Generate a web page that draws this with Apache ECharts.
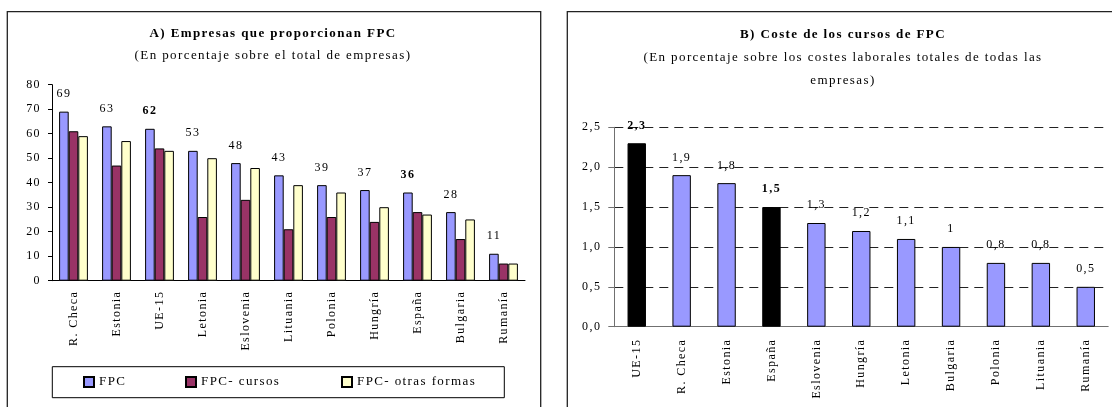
<!DOCTYPE html>
<html>
<head>
<meta charset="utf-8">
<script src="https://cdn.jsdelivr.net/npm/echarts@6/dist/echarts.min.js"></script>
<style>
  html, body { margin: 0; padding: 0; background: #fff; }
  #chart { width: 1112px; height: 407px; }
</style>
</head>
<body>
<div id="chart"></div>
<script>
// ---- data ----
const titleA = 'A) Empresas que proporcionan FPC';
const subtitleA = '(En porcentaje sobre el total de empresas)';
const titleB = 'B) Coste de los cursos de FPC';
const subtitleB = '(En porcentaje sobre los costes laborales totales de todas las\nempresas)';

const categoriesA = ['R. Checa', 'Estonia', 'UE-15', 'Letonia', 'Eslovenia', 'Lituania', 'Polonia', 'Hungría', 'España', 'Bulgaria', 'Rumanía'];
const seriesNamesA = ['FPC', 'FPC- cursos', 'FPC- otras formas'];
const fpcA = [69, 63, 62, 53, 48, 43, 39, 37, 36, 28, 11];
const cursosA = [61, 47, 54, 26, 33, 21, 26, 24, 28, 17, 7];
const otrasA = [59, 57, 53, 50, 46, 39, 36, 30, 27, 25, 7];

const categoriesB = ['UE-15', 'R. Checa', 'Estonia', 'España', 'Eslovenia', 'Hungría', 'Letonia', 'Bulgaria', 'Polonia', 'Lituania', 'Rumanía'];
const costeB = [2.3, 1.9, 1.8, 1.5, 1.3, 1.2, 1.1, 1.0, 0.8, 0.8, 0.5];

const highlighted = ['UE-15', 'España'];

const yAxisA = { min: 0, max: 80, interval: 10 };
const yAxisB = { min: 0, max: 2.5, interval: 0.5 };

// ---- styling ----
const FONT = 'Liberation Serif';
const LETTER_SPACING = '1.4px';
(function () {
  const proto = CanvasRenderingContext2D.prototype;
  if (!('letterSpacing' in proto)) return;
  const fill = proto.fillText, measure = proto.measureText;
  proto.fillText = function () { this.letterSpacing = LETTER_SPACING; return fill.apply(this, arguments); };
  proto.measureText = function () { this.letterSpacing = LETTER_SPACING; return measure.apply(this, arguments); };
})();

const colFPC = '#9999FF', colCursos = '#993366', colOtras = '#FFFFCC';
const txt = { fontFamily: FONT, color: '#000' };

const chart = echarts.init(document.getElementById('chart'));

const fpcData = fpcA.map((v, i) => ({
  value: v,
  label: { fontWeight: highlighted.includes(categoriesA[i]) ? 'bold' : 'normal' }
}));
const costeData = costeB.map((v, i) => {
  const hl = highlighted.includes(categoriesB[i]);
  return {
    value: v,
    itemStyle: { color: hl ? '#000000' : colFPC },
    label: { fontWeight: hl ? 'bold' : 'normal' }
  };
});

const barBorder = { borderColor: '#000', borderWidth: 1 };

const option = {
  animation: false,
  backgroundColor: '#fff',
  title: [
    {
      text: titleA, subtext: subtitleA, left: 273, top: 26, textAlign: 'center', itemGap: 6, padding: 0,
      textStyle: Object.assign({ fontSize: 13, fontWeight: 'bold', lineHeight: 16 }, txt),
      subtextStyle: Object.assign({ fontSize: 13, lineHeight: 16 }, txt)
    },
    {
      text: titleB, subtext: subtitleB, left: 843, top: 27, textAlign: 'center', itemGap: 3, padding: 0,
      textStyle: Object.assign({ fontSize: 13, fontWeight: 'bold', lineHeight: 16 }, txt),
      subtextStyle: Object.assign({ fontSize: 13, lineHeight: 23 }, txt)
    }
  ],
  legend: [
    { data: [seriesNamesA[0]], left: 83, top: 374, padding: 0, itemWidth: 10, itemHeight: 10, icon: 'rect',
      textStyle: Object.assign({ fontSize: 13, lineHeight: 16 }, txt) },
    { data: [seriesNamesA[1]], left: 185, top: 374, padding: 0, itemWidth: 10, itemHeight: 10, icon: 'rect',
      textStyle: Object.assign({ fontSize: 13, lineHeight: 16 }, txt) },
    { data: [seriesNamesA[2]], left: 341, top: 374, padding: 0, itemWidth: 10, itemHeight: 10, icon: 'rect',
      textStyle: Object.assign({ fontSize: 13, lineHeight: 16 }, txt) }
  ],
  grid: [
    { left: 52, top: 84.7, width: 473, height: 196, containLabel: false },
    { left: 614.3, top: 127.3, width: 493.9, height: 199.4, containLabel: false }
  ],
  xAxis: [
    {
      type: 'category', gridIndex: 0, data: categoriesA,
      axisLine: { lineStyle: { color: '#000', width: 1 } },
      axisTick: { show: false },
      axisLabel: Object.assign({ rotate: 90, margin: 10, fontSize: 12, interval: 0 }, txt)
    },
    {
      type: 'category', gridIndex: 1, data: categoriesB,
      axisLine: { lineStyle: { color: '#707070', width: 1 } },
      axisTick: { show: false },
      axisLabel: Object.assign({ rotate: 90, margin: 12, fontSize: 12, interval: 0 }, txt)
    }
  ],
  yAxis: [
    {
      type: 'value', gridIndex: 0, min: yAxisA.min, max: yAxisA.max, interval: yAxisA.interval,
      axisLine: { show: true, lineStyle: { color: '#000', width: 1 } },
      axisTick: { show: true, length: 4, lineStyle: { color: '#000' } },
      splitLine: { show: false },
      axisLabel: Object.assign({ margin: 11, fontSize: 12 }, txt)
    },
    {
      type: 'value', gridIndex: 1, min: yAxisB.min, max: yAxisB.max, interval: yAxisB.interval,
      axisLine: { show: true, lineStyle: { color: '#707070', width: 1 } },
      axisTick: { show: true, length: 6, lineStyle: { color: '#707070' } },
      splitLine: { show: true, lineStyle: { color: '#222', width: 1, type: [9, 6] } },
      axisLabel: Object.assign({
        margin: 13, fontSize: 12,
        formatter: v => v.toFixed(1).replace('.', ',')
      }, txt)
    }
  ],
  series: [
    {
      name: seriesNamesA[0], type: 'bar', xAxisIndex: 0, yAxisIndex: 0,
      data: fpcData, barGap: '0%', barCategoryGap: '33%',
      itemStyle: Object.assign({ color: colFPC }, barBorder),
      label: Object.assign({ show: true, position: 'top', distance: 11, fontSize: 12 }, txt)
    },
    {
      name: seriesNamesA[1], type: 'bar', xAxisIndex: 0, yAxisIndex: 0,
      data: cursosA, barGap: '0%', barCategoryGap: '33%',
      itemStyle: Object.assign({ color: colCursos }, barBorder)
    },
    {
      name: seriesNamesA[2], type: 'bar', xAxisIndex: 0, yAxisIndex: 0,
      data: otrasA, barGap: '0%', barCategoryGap: '33%',
      itemStyle: Object.assign({ color: colOtras }, barBorder)
    },
    {
      name: 'Coste', type: 'bar', xAxisIndex: 1, yAxisIndex: 1,
      data: costeData, barCategoryGap: '59%',
      itemStyle: Object.assign({ color: colFPC }, barBorder),
      label: Object.assign({
        show: true, position: 'top', distance: 11, fontSize: 12,
        formatter: p => String(p.value).replace('.', ',')
      }, txt)
    }
  ],
  graphic: [
    { type: 'rect', shape: { x: 7.3, y: 11.7, width: 533.4, height: 420 }, z: -1,
      style: { fill: null, stroke: '#222', lineWidth: 1.3 } },
    { type: 'rect', shape: { x: 567.3, y: 11.7, width: 560, height: 420 }, z: -1,
      style: { fill: null, stroke: '#222', lineWidth: 1.3 } },
    { type: 'rect', shape: { x: 52.3, y: 366.7, width: 452, height: 31 }, z: -1,
      style: { fill: null, stroke: '#000', lineWidth: 1 } }
  ]
};
chart.setOption(option);
</script>
</body>
</html>
